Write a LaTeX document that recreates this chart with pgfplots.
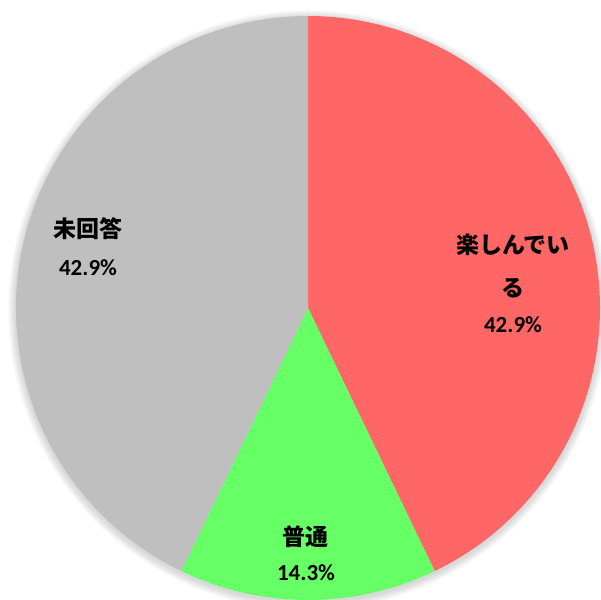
\documentclass[border=0pt]{standalone}
\usepackage{pgfplots}
\usepackage{pgfplotstable}
\pgfplotsset{compat=1.18}
\usepackage{fontspec}
\setmainfont{Carlito}
\newfontfamily\cjk{Noto Sans CJK JP}
\definecolor{sRed}{HTML}{FF6666}
\definecolor{sGreen}{HTML}{66FF66}
\definecolor{sGray}{HTML}{BFBFBF}
\pgfplotstableread[col sep=comma]{
idx,value
0,42.9
1,14.3
2,42.9
}\piedata
\begin{document}
\begin{tikzpicture}
\pgfplotstablegetelem{0}{value}\of\piedata \let\va\pgfplotsretval
\pgfplotstablegetelem{1}{value}\of\piedata \let\vb\pgfplotsretval
\pgfplotstablegetelem{2}{value}\of\piedata \let\vc\pgfplotsretval
\pgfmathsetmacro\tot{\va+\vb+\vc}
\pgfmathsetmacro\aA{90-360*\va/\tot}
\pgfmathsetmacro\aB{\aA-360*\vb/\tot}
\pgfmathsetmacro\xA{292*cos(\aA)}
\pgfmathsetmacro\yA{292*sin(\aA)}
\pgfmathsetmacro\xB{292*cos(\aB)}
\pgfmathsetmacro\yB{292*sin(\aB)}
\begin{axis}[
  scale only axis, width=601pt, height=599pt,
  xmin=-308, xmax=293, ymin=-291, ymax=308,
  hide axis, clip=false]
% soft shadow
\pgfplotsinvokeforeach{1,...,8}{
  \fill[black, opacity=0.018] (axis cs:0,-2) circle[radius=292pt+#1pt];
}
\fill[sRed] (axis cs:0,0) -- (axis cs:0,292) arc[start angle=90, end angle=\aA, radius=292pt] -- cycle;
\fill[sGreen] (axis cs:0,0) -- (axis cs:\xA,\yA) arc[start angle=\aA, end angle=\aB, radius=292pt] -- cycle;
\fill[sGray] (axis cs:0,0) -- (axis cs:\xB,\yB) arc[start angle=\aB, end angle=-270, radius=292pt] -- cycle;
\node[font=\cjk\bfseries\fontsize{23}{24}\selectfont] at (axis cs:205,63) {楽しんでい};
\node[font=\cjk\bfseries\fontsize{23}{24}\selectfont] at (axis cs:205,20) {る};
\node[font=\bfseries\fontsize{23}{24}\selectfont] at (axis cs:205,-17) {42.9\%};
\node[font=\cjk\bfseries\fontsize{23}{24}\selectfont] at (axis cs:-3,-229) {普通};
\node[font=\bfseries\fontsize{23}{24}\selectfont] at (axis cs:-2,-265) {14.3\%};
\node[font=\cjk\bfseries\fontsize{23}{24}\selectfont] at (axis cs:-220,79) {未回答};
\node[font=\bfseries\fontsize{23}{24}\selectfont] at (axis cs:-220,40) {42.9\%};
\end{axis}
\pgfresetboundingbox
\path (0,0) rectangle (601pt,599pt);
\end{tikzpicture}
\end{document}
